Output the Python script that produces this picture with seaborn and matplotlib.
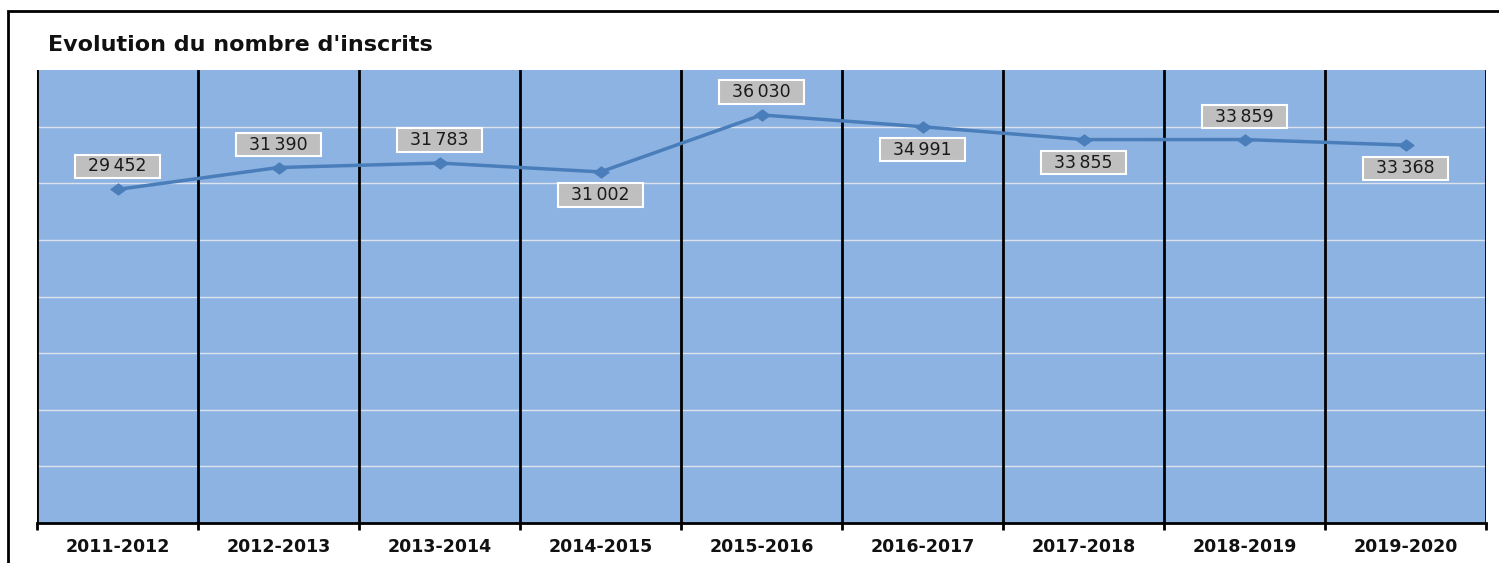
import numpy as np
import pandas as pd
import matplotlib
matplotlib.use("Agg")
import matplotlib.pyplot as plt
from matplotlib.patches import Rectangle
from matplotlib.path import Path
import seaborn as sns

# data
annees = ['2011-2012', '2012-2013', '2013-2014', '2014-2015', '2015-2016',
          '2016-2017', '2017-2018', '2018-2019', '2019-2020']
inscrits = [29452, 31390, 31783, 31002, 36030, 34991, 33855, 33859, 33368]
label_above = [True, True, True, False, True, False, False, True, False]

sns.set_style("white")
plt.rcParams['font.family'] = ['DejaVu Sans']

df = pd.DataFrame({'annee': annees, 'inscrits': inscrits})

fig = plt.figure(figsize=(14.99, 5.63), dpi=100)
ax = fig.add_axes([37 / 1499, 1 - 523 / 563, (1486 - 37) / 1499, (523 - 70) / 563])

bg = '#8DB3E2'
line_col = '#4A7EBB'
ax.set_facecolor(bg)

# flattened diamond like the excel marker
diamond = Path([(-1.35, 0), (0, 1), (1.35, 0), (0, -1), (-1.35, 0)],
               [Path.MOVETO, Path.LINETO, Path.LINETO, Path.LINETO, Path.CLOSEPOLY])

sns.lineplot(data=df, x='annee', y='inscrits', ax=ax, color=line_col, linewidth=2.5,
             marker=diamond, markersize=11, markeredgecolor=line_col, sort=False, zorder=4)

n = len(annees)
ax.set_xlim(-0.5, n - 0.5)
ax.set_ylim(0, 40000)

# horizontal grid
for yv in np.arange(5000, 40000, 5000):
    ax.axhline(yv, color='#DCE3EE', linewidth=1, zorder=1)
# vertical separators
for i in range(n + 1):
    ax.axvline(i - 0.5, color='black', linewidth=2, zorder=2)

ax.set_yticks([])
ax.set_xticks(range(n))
ax.set_xticklabels(annees, fontsize=12.5, fontweight='bold', color='#111111')
ax.set_xticks(np.arange(-0.5, n, 1), minor=True)
ax.tick_params(axis='x', which='major', length=0, pad=11)
ax.tick_params(axis='x', which='minor', length=5, width=2, direction='out', bottom=True, color='black')
ax.set_xlabel('')
ax.set_ylabel('')

for side in ['top', 'right', 'left']:
    ax.spines[side].set_visible(False)
ax.spines['bottom'].set_color('black')
ax.spines['bottom'].set_linewidth(2)

for i, (v, up) in enumerate(zip(inscrits, label_above)):
    txt = '  ' + '{:,}'.format(v).replace(',', '\u2009') + '  '
    off = 23 if up else -23
    ax.annotate(txt, (i, v), xytext=(0, off), textcoords='offset pixels',
                ha='center', va='center', fontsize=12.5, color='#1a1a1a', zorder=5,
                bbox=dict(boxstyle='square,pad=0.15', fc='#BFBFBF', ec='white', lw=1.5))

fig.text(48 / 1499, 1 - 45 / 563, "Evolution du nombre d'inscrits", fontsize=16,
         fontweight='bold', ha='left', va='center', color='#111111')

# outer frame of the chart
fig.patches.append(Rectangle((8 / 1499, -0.1), 1.2, 1 - 11 / 563 + 0.1,
                             transform=fig.transFigure, fill=False, ec='black', lw=2))

fig.savefig('out.png', dpi=100)
